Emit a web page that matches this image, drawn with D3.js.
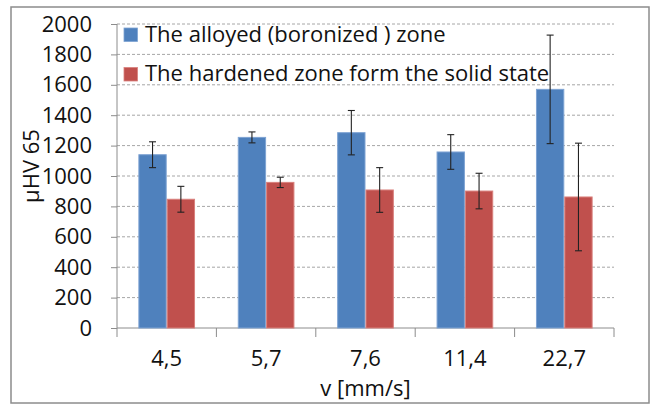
<!DOCTYPE html>
<html>
<head>
<meta charset="utf-8">
<script src="https://cdn.jsdelivr.net/npm/d3@7"></script>
<style>
  html, body { margin: 0; padding: 0; background: #fff; }
  svg { display: block; font-family: "Open Sans", sans-serif; }
</style>
</head>
<body>
<svg id="chart" width="652" height="405"></svg>
<script>
// ---- data ----
const categories = ["4,5", "5,7", "7,6", "11,4", "22,7"];
const seriesNames = ["The alloyed (boronized ) zone", "The hardened zone form the solid state"];
const alloyedValues = [1140, 1254, 1285, 1158, 1570];
const alloyedErrors = [85, 36, 146, 114, 357];
const hardenedValues = [847, 958, 908, 901, 862];
const hardenedErrors = [85, 34, 147, 117, 354];
const yTicks = [0, 200, 400, 600, 800, 1000, 1200, 1400, 1600, 1800, 2000];
const xTitle = "v [mm/s]";
const yTitle = "μHV 65";

const colors = ["#4F81BD", "#C0504D"];
const strokeColors = ["#7ea3d3", "#d9807d"];

const series = [
  { name: seriesNames[0], values: alloyedValues, errors: alloyedErrors },
  { name: seriesNames[1], values: hardenedValues, errors: hardenedErrors }
];

const svg = d3.select("#chart");
const fontSize = 22;
const textColor = "#111";

// frame
svg.append("rect")
  .attr("x", 11).attr("y", 7).attr("width", 638).attr("height", 396)
  .attr("fill", "#fff").attr("stroke", "#8c8c8c").attr("stroke-width", 1.5);

// scales
const y = d3.scaleLinear().domain([0, 2000]).range([328, 24]);
const x = d3.scaleBand().domain(categories).range([117, 614])
  .paddingInner(0.43).paddingOuter(0.215);
const x1 = d3.scaleBand().domain(d3.range(series.length)).range([0, x.bandwidth()]);
const step = x.step();

// gridlines
svg.append("g").selectAll("line").data(yTicks.filter(d => d > 0)).join("line")
  .attr("x1", 117).attr("x2", 614)
  .attr("y1", d => y(d)).attr("y2", d => y(d))
  .attr("stroke", "#a6a6a6").attr("stroke-width", 1)
  .attr("stroke-dasharray", "3,2");

// y axis
const yAxis = d3.axisLeft(y).tickValues(yTicks).tickFormat(d3.format("d"))
  .tickSize(6).tickPadding(19);
const gy = svg.append("g").attr("transform", "translate(117,0)").call(yAxis);
gy.select(".domain").attr("stroke", "#8c8c8c").attr("d", `M0,${y(2000)}V${y(0)}`);
gy.selectAll(".tick line").attr("stroke", "#8c8c8c");
gy.selectAll(".tick text").attr("font-size", fontSize).attr("fill", textColor)
  .attr("font-family", "Open Sans, sans-serif");

// x axis line + ticks at band boundaries
const boundaries = d3.range(categories.length + 1).map(i => x.range()[0] + i * step);
svg.append("line").attr("x1", 117).attr("x2", 614).attr("y1", y(0)).attr("y2", y(0))
  .attr("stroke", "#8c8c8c").attr("stroke-width", 1);
svg.append("g").selectAll("line").data(boundaries).join("line")
  .attr("x1", d => d).attr("x2", d => d).attr("y1", y(0)).attr("y2", y(0) + 9)
  .attr("stroke", "#8c8c8c").attr("stroke-width", 1);

// bars
const groups = svg.append("g").selectAll("g").data(categories).join("g")
  .attr("transform", d => `translate(${x(d)},0)`);

series.forEach((s, si) => {
  groups.append("rect")
    .attr("x", x1(si) + 0.5)
    .attr("width", x1.bandwidth() - 1)
    .attr("y", (d, i) => y(s.values[i]))
    .attr("height", (d, i) => y(0) - y(s.values[i]))
    .attr("fill", colors[si])
    .attr("stroke", strokeColors[si]).attr("stroke-width", 1);
});

// error bars
series.forEach((s, si) => {
  const cx = x1(si) + x1.bandwidth() / 2;
  groups.append("line")
    .attr("x1", cx).attr("x2", cx)
    .attr("y1", (d, i) => y(s.values[i] + s.errors[i]))
    .attr("y2", (d, i) => y(s.values[i] - s.errors[i]))
    .attr("stroke", "#222").attr("stroke-width", 1.1);
  [1, -1].forEach(sign => {
    groups.append("line")
      .attr("x1", cx - 3.5).attr("x2", cx + 3.5)
      .attr("y1", (d, i) => y(s.values[i] + sign * s.errors[i]))
      .attr("y2", (d, i) => y(s.values[i] + sign * s.errors[i]))
      .attr("stroke", "#222").attr("stroke-width", 1.1);
  });
});

// x labels
svg.append("g").selectAll("text").data(categories).join("text")
  .attr("x", d => x(d) + x.bandwidth() / 2).attr("y", 366)
  .attr("text-anchor", "middle").attr("font-size", fontSize).attr("fill", textColor)
  .text(d => d);

// axis titles
svg.append("text").attr("x", (117 + 614) / 2).attr("y", 396)
  .attr("text-anchor", "middle").attr("font-size", fontSize).attr("fill", textColor)
  .text(xTitle);
svg.append("text").attr("transform", "translate(39,166) rotate(-90)")
  .attr("text-anchor", "middle").attr("font-size", fontSize).attr("fill", textColor)
  .text(yTitle);

// legend
const legend = svg.append("g");
series.forEach((s, si) => {
  const by = 41.5 + si * 39.5;
  legend.append("rect").attr("x", 124).attr("y", by - 13.5).attr("width", 13.5).attr("height", 13.5)
    .attr("fill", colors[si]).attr("stroke", strokeColors[si]).attr("stroke-width", 0.8);
  legend.append("text").attr("x", 145).attr("y", by)
    .attr("font-size", fontSize).attr("fill", textColor).text(s.name);
});
</script>
</body>
</html>
